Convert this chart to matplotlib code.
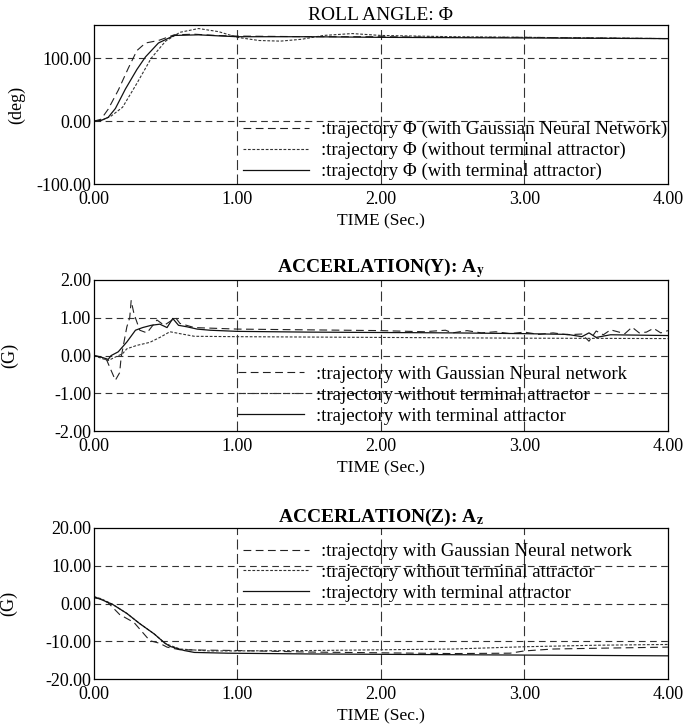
import matplotlib
matplotlib.use("Agg")
import matplotlib.pyplot as plt
from matplotlib.ticker import FormatStrFormatter

plt.rcParams['font.family'] = ['Liberation Serif', 'DejaVu Serif']
plt.rcParams['mathtext.fontset'] = 'stix'

# roll angle (deg)
t_roll_gnn = [0, 0.05, 0.1, 0.17, 0.24, 0.3, 0.36, 0.45, 0.56, 0.7, 0.85, 1.0, 1.5, 2.0, 2.5, 3.0, 3.5, 4.0]
roll_gnn = [0, 3, 19, 49, 84, 112, 124, 128, 137, 138, 136, 135, 134, 134, 133, 133, 132, 131]
t_roll_wo = [0, 0.05, 0.12, 0.2, 0.3, 0.4, 0.5, 0.6, 0.73, 0.87, 1.0, 1.15, 1.3, 1.45, 1.6, 1.8, 2.0, 2.5, 3.0, 3.5, 4.0]
roll_wo = [0, 1, 8, 22, 60, 100, 127, 141, 147, 142, 133, 128, 127, 130, 136, 139, 136, 134, 133, 132, 131]
t_roll_ta = [0, 0.05, 0.1, 0.15, 0.22, 0.3, 0.36, 0.45, 0.56, 0.73, 0.9, 1.0, 1.5, 2.0, 3.0, 4.0]
roll_ta = [0, 1, 6, 20, 51, 82, 102, 124, 136, 137, 135, 134, 134, 133, 132, 131]

# acceleration Y (G)
t_ay_gnn = [0, 0.05, 0.09, 0.11, 0.15, 0.18, 0.19, 0.23, 0.25, 0.26, 0.28, 0.32, 0.37, 0.44, 0.49,
            0.53, 0.57, 0.6, 0.7, 0.85, 1.0, 1.5, 2.0, 2.3, 2.45, 2.5, 2.6, 2.7, 2.8, 2.9, 3.0,
            3.1, 3.2, 3.3, 3.4, 3.45, 3.5, 3.55, 3.6, 3.7, 3.75, 3.8, 3.85, 3.9, 3.95, 4.0]
ay_gnn = [0, -0.03, -0.12, -0.3, -0.65, -0.45, -0.05, 0.76, 1.0, 1.45, 1.1, 0.67, 0.6, 0.94, 0.8,
          0.9, 1.0, 0.85, 0.74, 0.72, 0.7, 0.68, 0.66, 0.63, 0.67, 0.6, 0.66, 0.6, 0.63, 0.58, 0.62,
          0.56, 0.6, 0.55, 0.57, 0.38, 0.65, 0.55, 0.68, 0.58, 0.75, 0.6, 0.62, 0.72, 0.6, 0.66]
t_ay_wo = [0, 0.06, 0.1, 0.16, 0.2, 0.23, 0.3, 0.39, 0.46, 0.53, 0.6, 0.7, 1.0, 2.0, 3.0, 4.0]
ay_wo = [0, -0.08, -0.13, -0.02, 0.05, 0.18, 0.27, 0.35, 0.48, 0.63, 0.58, 0.51, 0.5, 0.48, 0.46, 0.45]
t_ay_ta = [0, 0.06, 0.1, 0.12, 0.17, 0.23, 0.29, 0.34, 0.4, 0.46, 0.51, 0.55, 0.59, 0.65, 0.72,
           0.81, 1.0, 1.5, 2.0, 2.5, 3.0, 3.3, 3.4, 3.45, 3.5, 3.6, 4.0]
ay_ta = [0, -0.05, -0.1, 0, 0.1, 0.36, 0.67, 0.74, 0.8, 0.83, 0.74, 0.98, 0.8, 0.76, 0.7,
         0.67, 0.64, 0.62, 0.61, 0.6, 0.58, 0.56, 0.5, 0.6, 0.48, 0.55, 0.53]

# acceleration Z (G)
t_az_gnn = [0, 0.05, 0.1, 0.18, 0.28, 0.39, 0.46, 0.51, 0.6, 0.8, 1.0, 1.5, 2.0, 2.5, 2.9, 3.0, 3.2, 3.5, 4.0]
az_gnn = [1.5, 1.2, 0.2, -2.9, -5.0, -9.8, -10.5, -11.5, -12.2, -12.3, -12.4, -12.8, -13.0, -13.2, -13.1, -12.5, -12.0, -11.8, -11.5]
t_az_wo = [0, 0.05, 0.13, 0.23, 0.32, 0.42, 0.5, 0.6, 0.8, 1.0, 1.5, 2.0, 2.5, 3.0, 3.5, 4.0]
az_wo = [1.8, 1.3, -0.2, -2.6, -5.3, -8.0, -10.6, -12.0, -12.5, -12.5, -12.4, -12.2, -12.0, -11.4, -11.0, -10.8]
t_az_ta = [0, 0.03, 0.13, 0.23, 0.32, 0.42, 0.49, 0.53, 0.63, 0.7, 0.93, 1.5, 2.0, 3.0, 4.0]
az_ta = [1.8, 1.4, -0.2, -2.6, -5.3, -8.0, -10.3, -11.3, -12.4, -12.9, -13.1, -13.3, -13.4, -13.6, -13.8]

labels_roll = [':trajectory \u03a6 (with Gaussian Neural Network)',
               ':trajectory \u03a6 (without terminal attractor)',
               ':trajectory \u03a6 (with terminal attractor)']
labels_acc = [':trajectory with Gaussian Neural network',
              ':trajectory without terminal attractor',
              ':trajectory with terminal attractor']

panels = [
    dict(rect=[0.136, 0.746, 0.832, 0.219], title='ROLL ANGLE: \u03a6', bold=False, ylabel='(deg)',
         ylim=(-100, 152), yticks=[-100, 0, 100], ygrid=[0, 100],
         data=[(t_roll_gnn, roll_gnn), (t_roll_wo, roll_wo), (t_roll_ta, roll_ta)],
         labels=labels_roll, leg=(0.26, 0.398), ylx=-0.12),
    dict(rect=[0.136, 0.405, 0.832, 0.209], title='ACCERLATION(Y): A$_\\mathbf{y}$', bold=True, ylabel='(G)',
         ylim=(-2, 2), yticks=[-2, -1, 0, 1, 2], ygrid=[-1, 0, 1],
         data=[(t_ay_gnn, ay_gnn), (t_ay_wo, ay_wo), (t_ay_ta, ay_ta)],
         labels=labels_acc, leg=(0.251, 0.432), ylx=-0.132),
    dict(rect=[0.136, 0.063, 0.832, 0.209], title='ACCERLATION(Z): A$_\\mathbf{z}$', bold=True, ylabel='(G)',
         ylim=(-20, 20), yticks=[-20, -10, 0, 10, 20], ygrid=[-10, 0, 10],
         data=[(t_az_gnn, az_gnn), (t_az_wo, az_wo), (t_az_ta, az_ta)],
         labels=labels_acc, leg=(0.26, 0.90), ylx=-0.134),
]

styles = [dict(ls=(0, (7, 4)), lw=0.8, color='#222222'),
          dict(ls=(0, (2.5, 1.5)), lw=0.8, color='#333333'),
          dict(ls='-', lw=0.9, color='#111111')]

fig = plt.figure(figsize=(6.9, 7.25), dpi=100)

for p in panels:
    ax = fig.add_axes(p['rect'])
    for y in p['ygrid']:
        ax.axhline(y, color='#333333', lw=0.8, ls=(0, (6, 4)), zorder=1)
    for x in [1, 2, 3]:
        ax.axvline(x, color='#333333', lw=0.8, ls=(0, (9, 4)), zorder=1)
    for (t, v), st, lab in zip(p['data'], styles, p['labels']):
        ax.plot(t, v, label=lab, zorder=2, **st)
    ax.set_xlim(0, 4)
    ax.set_ylim(*p['ylim'])
    ax.set_xticks([0, 1, 2, 3, 4])
    ax.set_yticks(p['yticks'])
    ax.xaxis.set_major_formatter(FormatStrFormatter('%.2f'))
    ax.yaxis.set_major_formatter(FormatStrFormatter('%.2f'))
    ax.tick_params(length=0, labelsize=13, pad=2)
    ax.tick_params(axis='x', pad=5)
    for s in ax.spines.values():
        s.set_linewidth(0.9)
    ax.set_xlabel('TIME (Sec.)', fontsize=12.5, labelpad=4)
    ax.set_ylabel(p['ylabel'], fontsize=13)
    ax.yaxis.set_label_coords(p['ylx'], 0.5)
    ax.set_title(p['title'], fontsize=14, pad=4,
                 fontweight='bold' if p['bold'] else 'normal')
    ax.legend(loc='upper left', bbox_to_anchor=p['leg'], frameon=False, fontsize=13.5,
              handlelength=3.5, handletextpad=0.65, labelspacing=0.2, borderpad=0,
              borderaxespad=0)

fig.savefig('out.png', dpi=100)
